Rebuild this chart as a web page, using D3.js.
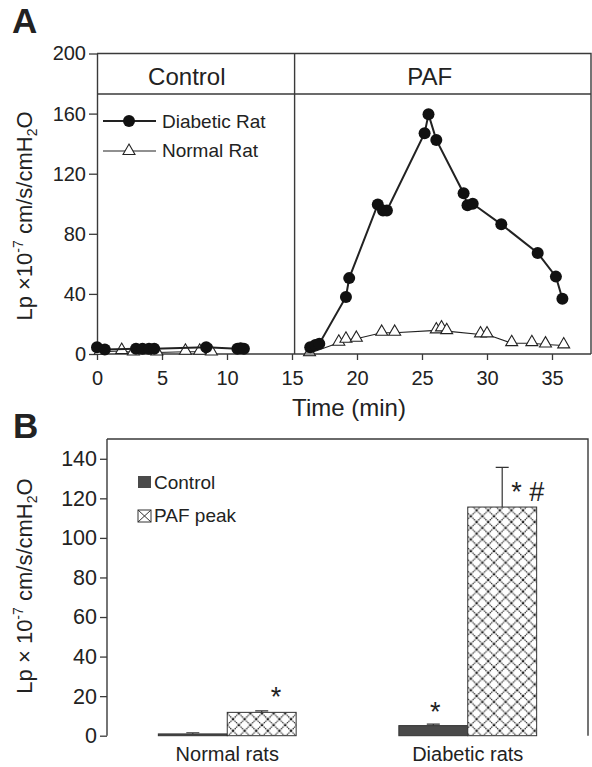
<!DOCTYPE html>
<html><head><meta charset="utf-8">
<script src="https://cdn.jsdelivr.net/npm/d3@7"></script>
<style>
body{margin:0;background:#fff}
svg{display:block}
text{font-family:"Liberation Sans",Arial,sans-serif;fill:#222}
</style>
</head><body>
<svg id="chart" width="592" height="767"></svg>
<script>
// ---------- Panel A data ----------
const diabeticControlTime = [0, 0.6, 3.0, 3.5, 4.0, 4.4, 8.4, 10.8, 11.05, 11.3];
const diabeticControlLp   = [4.5, 3.0, 3.5, 3.5, 3.5, 3.5, 4.5, 3.5, 3.8, 3.5];
const normalControlTime   = [0.25, 1.9, 2.8, 4.6, 6.8, 7.9, 8.8];
const normalControlLp     = [1.5, 2, 1, 1, 1.5, 1.5, 1];
const diabeticPafTime = [16.4, 16.8, 17.1, 19.15, 19.4, 21.6, 22.0, 22.3, 25.2, 25.5, 26.1, 28.2, 28.5, 28.9, 31.1, 33.9, 35.3, 35.8];
const diabeticPafLp   = [4.5, 6, 6.8, 38, 50.5, 99.5, 95.5, 95.5, 147, 159.5, 142.5, 107, 99, 100, 86.3, 67.2, 51.5, 36.8];
const normalPafTime = [16.35, 18.6, 19.15, 19.95, 21.9, 22.9, 26.1, 26.5, 26.9, 29.5, 30.0, 31.9, 33.45, 34.5, 35.9];
const normalPafLp   = [0.5, 7.5, 9.5, 10.1, 14.1, 14.1, 15.7, 17, 15.2, 13, 13, 7.2, 7.2, 6.3, 5.7];
const phaseNames = ["Control", "PAF"];
const phaseBoundary = 15.2;     // min
const headerBandLevel = 173;    // Lp units, bottom of the header band
const xTicksA = [0, 5, 10, 15, 20, 25, 30, 35];
const yTicksA = [0, 40, 80, 120, 160, 200];
const seriesNamesA = ["Diabetic Rat", "Normal Rat"];

// ---------- Panel B data ----------
const groups = ["Normal rats", "Diabetic rats"];
const conditions = ["Control", "PAF peak"];
const controlMean = [0.9, 5.1];
const controlErr  = [0.6, 0.8];
const pafMean = [11.8, 115.6];
const pafErr  = [0.8, 20.1];
const controlMarks = ["", "*"];
const pafMarks = ["*", "* #"];
const yTicksB = [0, 20, 40, 60, 80, 100, 120, 140];

const svg = d3.select("#chart");
const ink = "#222", frame = "#3a3a3a";

// ================= PANEL A =================
const xA = d3.scaleLinear().domain([0, 38]).range([97, 591]);
const yA = d3.scaleLinear().domain([0, 200]).range([354, 53.5]);

svg.append("text").attr("x", 12).attr("y", 33).attr("font-size", 35)
  .attr("font-weight", "bold").text("A");

const gA = svg.append("g");
gA.append("path").attr("fill", "none").attr("stroke", frame).attr("stroke-width", 1.4)
  .attr("d", `M${xA(0)},${yA(200)}H${xA(38)}V${yA(0)}`);
gA.append("line").attr("stroke", frame).attr("stroke-width", 1.4)
  .attr("x1", xA(0)).attr("x2", xA(38)).attr("y1", yA(headerBandLevel)).attr("y2", yA(headerBandLevel));
gA.append("line").attr("stroke", frame).attr("stroke-width", 1.4)
  .attr("x1", xA(phaseBoundary)).attr("x2", xA(phaseBoundary)).attr("y1", yA(200)).attr("y2", yA(0));
gA.append("text").attr("x", (xA(0) + xA(phaseBoundary)) / 2 - 9).attr("y", 85)
  .attr("text-anchor", "middle").attr("font-size", 24).text(phaseNames[0]);
gA.append("text").attr("x", (xA(phaseBoundary) + xA(38)) / 2 - 13).attr("y", 85)
  .attr("text-anchor", "middle").attr("font-size", 24).text(phaseNames[1]);

const yAxisA = gA.append("g").attr("transform", `translate(${xA(0)},0)`)
  .call(d3.axisLeft(yA).tickValues(yTicksA).tickSize(8).tickPadding(3).tickSizeOuter(0));
const xAxisA = gA.append("g").attr("transform", `translate(0,${yA(0)})`)
  .call(d3.axisBottom(xA).tickValues(xTicksA).tickSize(6).tickPadding(11).tickSizeOuter(0));
[yAxisA, xAxisA].forEach(ax => {
  ax.select(".domain").attr("stroke", frame).attr("stroke-width", 1.4);
  ax.selectAll(".tick line").attr("stroke", frame).attr("stroke-width", 1.3);
  ax.selectAll(".tick text").attr("font-size", 20).attr("fill", ink)
    .attr("font-family", '"Liberation Sans",Arial,sans-serif');
});
xAxisA.select(".domain").attr("d", `M${xA(0)},0H${xA(38)}`);

gA.append("text").attr("x", 349).attr("y", 416).attr("text-anchor", "middle")
  .attr("font-size", 24).text("Time (min)");

function yLabel(cx, cy, lead) {
  const t = svg.append("text").attr("transform", `translate(${cx},${cy}) rotate(-90)`)
    .attr("text-anchor", "middle").attr("font-size", 22);
  t.append("tspan").text(lead);
  t.append("tspan").attr("font-size", 14).attr("dy", -9).text("-7");
  t.append("tspan").attr("dy", 9).text(" cm/s/cmH");
  t.append("tspan").attr("font-size", 14).attr("dy", 5).text("2");
  t.append("tspan").attr("dy", -5).text("O");
}
yLabel(32, 216, "Lp ×10");

const lineA = d3.line().x(d => xA(d[0])).y(d => yA(d[1]));
const zip = (a, b) => a.map((v, i) => [v, b[i]]);
const normalSegs = [zip(normalControlTime, normalControlLp), zip(normalPafTime, normalPafLp)];
const diabSegs = [zip(diabeticControlTime, diabeticControlLp), zip(diabeticPafTime, diabeticPafLp)];
const tri = d3.symbol().type(d3.symbolTriangle).size(62);

normalSegs.forEach(seg => {
  gA.append("path").attr("d", lineA(seg)).attr("fill", "none").attr("stroke", ink).attr("stroke-width", 1.1);
});
normalSegs.forEach((seg, si) => {
  gA.selectAll(null).data(seg).enter().append("path").attr("d", tri)
    .attr("transform", d => `translate(${xA(d[0])},${yA(d[1]) - 1})`)
    .attr("fill", (d, i) => (si === 1 && i === 0) ? "#999" : "#fff")
    .attr("stroke", ink).attr("stroke-width", 1.1);
});
diabSegs.forEach(seg => {
  gA.append("path").attr("d", lineA(seg)).attr("fill", "none").attr("stroke", ink).attr("stroke-width", 2);
  gA.selectAll(null).data(seg).enter().append("circle")
    .attr("cx", d => xA(d[0])).attr("cy", d => yA(d[1])).attr("r", 6).attr("fill", "#111");
});

const legA = gA.append("g");
legA.append("line").attr("x1", 103).attr("x2", 156).attr("y1", 121).attr("y2", 121)
  .attr("stroke", ink).attr("stroke-width", 2);
legA.append("circle").attr("cx", 129).attr("cy", 121).attr("r", 6).attr("fill", "#111");
legA.append("text").attr("x", 162).attr("y", 128).attr("font-size", 19).text(seriesNamesA[0]);
legA.append("line").attr("x1", 103).attr("x2", 156).attr("y1", 151).attr("y2", 151)
  .attr("stroke", ink).attr("stroke-width", 1.1);
legA.append("path").attr("d", tri).attr("transform", "translate(129,151)")
  .attr("fill", "#fff").attr("stroke", ink).attr("stroke-width", 1.1);
legA.append("text").attr("x", 162).attr("y", 157).attr("font-size", 19).text(seriesNamesA[1]);

// ================= PANEL B =================
const defs = svg.append("defs");
const pat = defs.append("pattern").attr("id", "xhatch").attr("patternUnits", "userSpaceOnUse")
  .attr("width", 11.6).attr("height", 11.6).attr("x", 1).attr("y", 0);
pat.append("rect").attr("width", 11.6).attr("height", 11.6).attr("fill", "#fff");
pat.append("path").attr("d", "M0,0L11.6,11.6M11.6,0L0,11.6M-1,10.6L1,12.6M10.6,-1L12.6,1")
  .attr("stroke", "#111").attr("stroke-width", 1.1).attr("stroke-dasharray", "1.4 0.7");

const xB0 = d3.scaleBand().domain(groups).range([107, 588]).paddingInner(0.427).paddingOuter(0.2135);
const xB1 = d3.scaleBand().domain(conditions).range([0, xB0.bandwidth()]);
const yB = d3.scaleLinear().domain([0, 150]).range([735.7, 439]);

svg.append("text").attr("x", 13).attr("y", 438).attr("font-size", 35)
  .attr("font-weight", "bold").text("B");

const gB = svg.append("g");
gB.append("path").attr("fill", "none").attr("stroke", frame).attr("stroke-width", 1.4)
  .attr("d", `M107,${yB(150)}H588V${yB(0)}`);

const yAxisB = gB.append("g").attr("transform", "translate(107,0)")
  .call(d3.axisLeft(yB).tickValues(yTicksB).tickSize(7).tickPadding(3).tickSizeOuter(0));
yAxisB.select(".domain").attr("stroke", frame).attr("stroke-width", 1.4)
  .attr("d", `M0,${yB(0)}V${yB(150)}`);
yAxisB.selectAll(".tick line").attr("stroke", frame).attr("stroke-width", 1.3);
yAxisB.selectAll(".tick text").attr("font-size", 21.5).attr("fill", ink)
  .attr("font-family", '"Liberation Sans",Arial,sans-serif');

yLabel(32, 586, "Lp × 10");

const barData = [];
groups.forEach((g, i) => {
  barData.push({g, c: conditions[0], m: controlMean[i], e: controlErr[i], mark: controlMarks[i]});
  barData.push({g, c: conditions[1], m: pafMean[i], e: pafErr[i], mark: pafMarks[i]});
});

const bx = d => xB0(d.g) + xB1(d.c);
gB.selectAll(null).data(barData).enter().append("rect")
  .attr("x", bx).attr("width", xB1.bandwidth())
  .attr("y", d => yB(d.m)).attr("height", d => yB(0) - yB(d.m))
  .attr("fill", d => d.c === conditions[0] ? "#4a4a4a" : "url(#xhatch)")
  .attr("stroke", "#333").attr("stroke-width", 1);

gB.selectAll(null).data(barData).enter().append("path")
  .attr("d", d => {
    const cx = bx(d) + xB1.bandwidth() / 2;
    return `M${cx},${yB(d.m)}V${yB(d.m + d.e)}M${cx - 6.5},${yB(d.m + d.e)}H${cx + 6.5}`;
  })
  .attr("stroke", "#333").attr("stroke-width", 1.2).attr("fill", "none");

gB.selectAll(null).data(barData.filter(d => d.mark)).enter().append("text")
  .attr("font-size", 27)
  .attr("text-anchor", d => d.c === conditions[0] ? "middle" : "start")
  .attr("x", d => bx(d) + xB1.bandwidth() / 2 + (d.c === conditions[0] ? 2 : 9))
  .attr("y", d => d.c === conditions[0] ? yB(d.m + d.e) - 3 : yB(d.m) - 6)
  .text(d => d.mark);

gB.selectAll(null).data(groups).enter().append("text")
  .attr("x", g => xB0(g) + xB0.bandwidth() / 2).attr("y", 761)
  .attr("text-anchor", "middle").attr("font-size", 20).text(g => g);

gB.append("rect").attr("x", 138).attr("y", 476).attr("width", 13).attr("height", 12)
  .attr("fill", "#4a4a4a");
gB.append("text").attr("x", 154).attr("y", 489).attr("font-size", 19).text(conditions[0]);
gB.append("rect").attr("x", 138).attr("y", 510).attr("width", 13).attr("height", 12)
  .attr("fill", "#fff").attr("stroke", "#333").attr("stroke-width", 1);
gB.append("path").attr("d", "M138,510L151,522M151,510L138,522")
  .attr("stroke", "#333").attr("stroke-width", 1);
gB.append("text").attr("x", 154).attr("y", 522).attr("font-size", 19).text(conditions[1]);
</script>
</body></html>
